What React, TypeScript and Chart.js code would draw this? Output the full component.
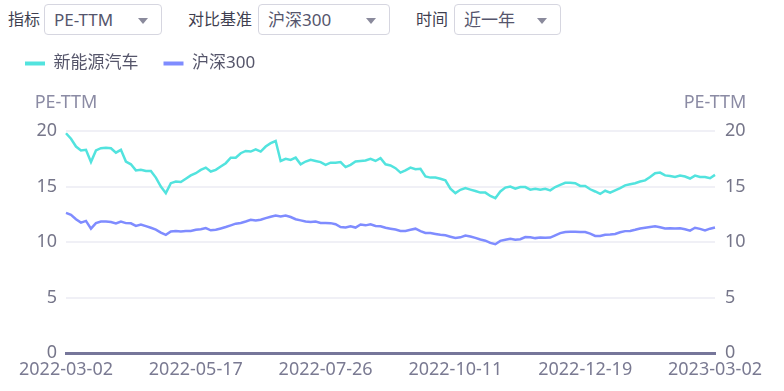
import React, { useEffect, useRef } from 'react';
import { Chart, registerables } from 'chart.js';

Chart.register(...registerables);

// ---- data ----
const seriesNames = ['新能源汽车', '沪深300'];
const axisTitle = 'PE-TTM';
const tickDates = ['2022-03-02', '2022-05-17', '2022-07-26', '2022-10-11', '2022-12-19', '2023-03-02'];
const yTicks = [0, 5, 10, 15, 20];

const nevPE = [
  19.8, 19.3, 18.6, 18.25, 18.3, 17.2, 18.25, 18.45, 18.5, 18.45,
  18.05, 18.3, 17.25, 17.0, 16.45, 16.5, 16.4, 16.4, 15.8, 15.0,
  14.4, 15.3, 15.45, 15.4, 15.7, 16.0, 16.2, 16.5, 16.7, 16.35,
  16.5, 16.8, 17.1, 17.6, 17.6, 18.0, 18.2, 18.15, 18.35, 18.15,
  18.6, 18.9, 19.1, 17.3, 17.5, 17.4, 17.6, 17.0, 17.25, 17.4,
  17.3, 17.2, 16.95, 17.15, 17.15, 17.2, 16.75, 16.95, 17.25, 17.3,
  17.35, 17.5, 17.3, 17.55, 17.0, 16.9, 16.65, 16.25, 16.45, 16.7,
  16.55, 16.6, 15.9, 15.8, 15.8, 15.7, 15.55, 14.8, 14.4, 14.7,
  14.85, 14.72, 14.6, 14.45, 14.45, 14.15, 13.95, 14.55, 14.9, 15.0,
  14.8, 14.95, 14.95, 14.72, 14.8, 14.7, 14.8, 14.65, 14.95, 15.15,
  15.33, 15.33, 15.3, 15.05, 15.05, 14.75, 14.55, 14.33, 14.62, 14.45,
  14.65, 14.85, 15.1, 15.2, 15.3, 15.45, 15.55, 15.85, 16.2, 16.25,
  16.0, 15.95, 15.85, 15.98, 15.9, 15.72, 15.98, 15.85, 15.85, 15.75, 16.05,
];

const hs300PE = [
  12.62, 12.45, 12.05, 11.75, 11.9, 11.2, 11.7, 11.84, 11.84, 11.8,
  11.67, 11.85, 11.7, 11.68, 11.45, 11.58, 11.43, 11.28, 11.12, 10.85,
  10.65, 10.95, 11.0, 10.95, 11.0, 11.0, 11.1, 11.15, 11.25, 11.05,
  11.1, 11.22, 11.35, 11.5, 11.65, 11.72, 11.85, 12.0, 11.93, 12.0,
  12.15, 12.28, 12.38, 12.3, 12.38, 12.25, 12.05, 11.95, 11.85, 11.8,
  11.84, 11.72, 11.72, 11.7, 11.6, 11.35, 11.3, 11.42, 11.3, 11.58,
  11.5, 11.6, 11.45, 11.42, 11.28, 11.2, 11.12, 11.0, 11.0, 11.1,
  11.2, 10.98, 10.82, 10.8, 10.72, 10.65, 10.6, 10.48, 10.37, 10.42,
  10.58, 10.5, 10.37, 10.22, 10.12, 9.92, 9.8, 10.1, 10.2, 10.3,
  10.2, 10.25, 10.45, 10.42, 10.35, 10.4, 10.38, 10.4, 10.6, 10.8,
  10.9, 10.92, 10.92, 10.9, 10.9, 10.75, 10.55, 10.55, 10.65, 10.68,
  10.72, 10.88, 10.98, 11.0, 11.1, 11.22, 11.28, 11.35, 11.41, 11.32,
  11.22, 11.24, 11.22, 11.24, 11.15, 11.02, 11.28, 11.18, 11.05, 11.2, 11.3,
];

const FONT = "'Noto Sans', 'Noto Sans CJK SC', sans-serif";
const COLORS = ['#52e3de', '#7f8cff'];

const axisTitlePlugin = {
  id: 'axisTitles',
  afterDraw(chart: any) {
    const { ctx, chartArea } = chart;
    ctx.save();
    ctx.font = `18px ${FONT}`;
    ctx.fillStyle = '#8b8ba4';
    ctx.textAlign = 'center';
    ctx.textBaseline = 'middle';
    ctx.fillText(axisTitle, chartArea.left, chartArea.top - 28);
    ctx.fillText(axisTitle, chartArea.right, chartArea.top - 28);
    ctx.restore();
  },
};

function ChartCanvas() {
  const ref = useRef<HTMLCanvasElement | null>(null);
  useEffect(() => {
    if (!ref.current) return;
    const n = nevPE.length;
    const labels = nevPE.map((_, i) => String(i));
    const tickFont = { family: FONT, size: 18 };
    const chart = new Chart(ref.current, {
      type: 'line',
      data: {
        labels,
        datasets: [
          {
            label: seriesNames[0],
            data: nevPE,
            borderColor: COLORS[0],
            backgroundColor: COLORS[0],
            borderWidth: 2.5,
            pointRadius: 0,
            tension: 0,
            fill: false,
            yAxisID: 'y',
          },
          {
            label: seriesNames[1],
            data: hs300PE,
            borderColor: COLORS[1],
            backgroundColor: COLORS[1],
            borderWidth: 2.5,
            pointRadius: 0,
            tension: 0,
            fill: false,
            yAxisID: 'y',
          },
        ],
      },
      options: {
        animation: false,
        responsive: true,
        maintainAspectRatio: false,
        layout: { padding: 0 },
        plugins: {
          tooltip: { enabled: false },
          legend: {
            display: true,
            position: 'top',
            align: 'start',
            labels: {
              boxWidth: 20,
              boxHeight: 4,
              padding: 25,
              color: '#55556a',
              font: { family: FONT, size: 17 },
              generateLabels: (c: any) =>
                Chart.defaults.plugins.legend.labels
                  .generateLabels(c)
                  .map((l: any) => ({ ...l, lineWidth: 0, fillStyle: l.strokeStyle })),
            },
          },
          title: {
            display: true,
            text: ' ',
            position: 'top',
            weight: 500,
            font: { size: 10, lineHeight: 1 },
            padding: { top: 39, bottom: 0 },
          },
        },
        scales: {
          x: {
            type: 'category',
            offset: false,
            grid: { display: false, drawTicks: false },
            border: { display: true, color: '#76769a', width: 3 },
            afterBuildTicks: (s: any) => {
              s.ticks = tickDates.map((_, i) => ({
                value: Math.round((i * (n - 1)) / (tickDates.length - 1)),
              }));
            },
            afterFit: (s: any) => {
              s.height = 38;
            },
            ticks: {
              autoSkip: false,
              maxRotation: 0,
              minRotation: 0,
              padding: 6,
              color: '#7a7a92',
              font: tickFont,
              callback: (_v: any, i: number) => tickDates[i],
            },
          },
          y: {
            position: 'left',
            min: yTicks[0],
            max: yTicks[yTicks.length - 1],
            afterBuildTicks: (s: any) => {
              s.ticks = yTicks.map((v) => ({ value: v }));
            },
            afterFit: (s: any) => {
              s.width = 66;
            },
            border: { display: false },
            grid: {
              drawTicks: false,
              lineWidth: 2,
              color: (c: any) => (c.tick && c.tick.value === 0 ? 'rgba(0,0,0,0)' : '#f0f0f6'),
            },
            ticks: { padding: 9, color: '#76768a', font: tickFont },
          },
          y2: {
            position: 'right',
            min: yTicks[0],
            max: yTicks[yTicks.length - 1],
            afterBuildTicks: (s: any) => {
              s.ticks = yTicks.map((v) => ({ value: v }));
            },
            afterFit: (s: any) => {
              s.width = 69;
            },
            border: { display: false },
            grid: { display: false, drawTicks: false },
            ticks: { padding: 10, color: '#76768a', font: tickFont },
          },
        },
      },
      plugins: [axisTitlePlugin],
    } as any);
    return () => chart.destroy();
  }, []);
  return <canvas ref={ref} />;
}

function Control(props: { label: string; value: string; labelLeft: number; boxLeft: number; boxWidth: number }) {
  const { label, value, labelLeft, boxLeft, boxWidth } = props;
  return (
    <>
      <div
        style={{
          position: 'absolute',
          left: labelLeft,
          top: 4,
          height: 31,
          lineHeight: '31px',
          fontSize: 16,
          color: '#3f3f50',
          whiteSpace: 'nowrap',
        }}
      >
        {label}
      </div>
      <div
        style={{
          position: 'absolute',
          left: boxLeft,
          top: 4,
          width: boxWidth,
          height: 31,
          boxSizing: 'border-box',
          border: '1px solid #d6d6e0',
          borderRadius: 4,
          paddingLeft: 9,
          lineHeight: '29px',
          fontSize: 17,
          color: '#55556c',
          whiteSpace: 'nowrap',
          background: '#fff',
        }}
      >
        {value}
        <div
          style={{
            position: 'absolute',
            right: 13,
            top: 13,
            width: 0,
            height: 0,
            borderLeft: '5px solid transparent',
            borderRight: '5px solid transparent',
            borderTop: '6px solid #8a8a9c',
          }}
        />
      </div>
    </>
  );
}

export default function App() {
  return (
    <div
      style={{
        position: 'absolute',
        left: 0,
        top: 0,
        width: 784,
        height: 391,
        background: '#fff',
        fontFamily: FONT,
        overflow: 'hidden',
      }}
    >
      <Control label="指标" value="PE-TTM" labelLeft={8} boxLeft={44} boxWidth={118} />
      <Control label="对比基准" value="沪深300" labelLeft={188} boxLeft={258} boxWidth={132} />
      <Control label="时间" value="近一年" labelLeft={416} boxLeft={454} boxWidth={107} />
      <div style={{ position: 'absolute', left: 0, top: 30, width: 784, height: 361 }}>
        <ChartCanvas />
      </div>
    </div>
  );
}
